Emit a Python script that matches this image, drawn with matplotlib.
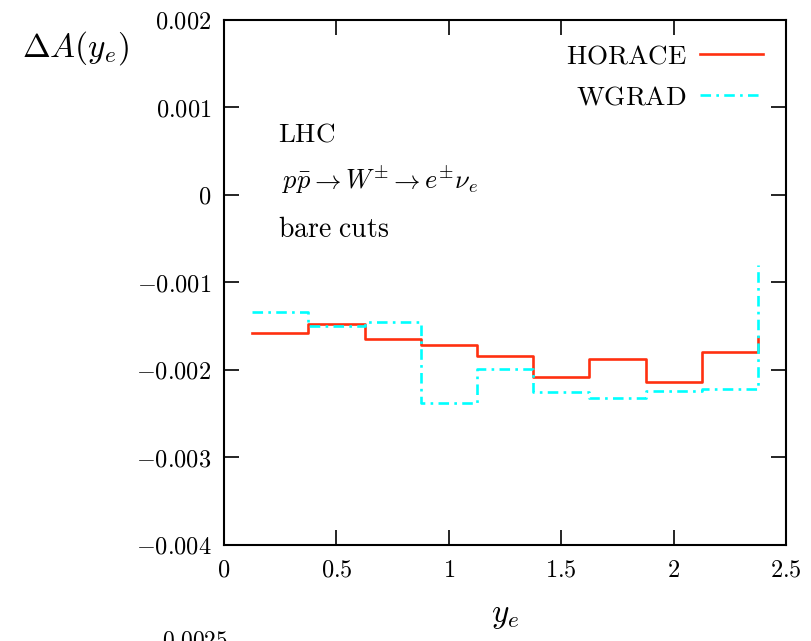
import matplotlib
matplotlib.use('Agg')
import matplotlib.pyplot as plt

plt.rcParams['mathtext.fontset'] = 'cm'
plt.rcParams['font.family'] = 'serif'
plt.rcParams['font.serif'] = ['DejaVu Serif']

# bin edges in y_e and the step values of Delta A
bin_edges = [0.125, 0.375, 0.625, 0.875, 1.125, 1.375, 1.625, 1.875, 2.125, 2.375]
horace = [-0.00158, -0.00147, -0.00165, -0.00171, -0.00184, -0.00208, -0.00187, -0.00214, -0.00179]
horace_end = -0.00162
wgrad = [-0.00134, -0.00150, -0.00145, -0.00238, -0.00199, -0.00225, -0.00232, -0.00224, -0.00222]
wgrad_end = -0.00080

xticks = [0, 0.5, 1, 1.5, 2, 2.5]
xtick_labels = ['0', '0.5', '1', '1.5', '2', '2.5']
yticks = [-0.004, -0.003, -0.002, -0.001, 0, 0.001, 0.002]
ytick_labels = ['-0.004', '-0.003', '-0.002', '-0.001', '0', '0.001', '0.002']

fig = plt.figure(figsize=(8.11, 6.41), dpi=100)
ax = fig.add_axes([0.2762, 0.1498, 0.6930, 0.8190])

ax.step(bin_edges, horace + [horace_end], where='post', color='#ff3010', lw=1.9, label=r'$\mathrm{HORACE}$')
ax.step(bin_edges, wgrad + [wgrad_end], where='post', color='#00ffff', lw=1.9,
        linestyle=(0, (4, 2, 1, 2)), label=r'$\mathrm{WGRAD}$')

ax.set_xlim(0, 2.5)
ax.set_ylim(-0.004, 0.002)
ax.set_xticks(xticks)
ax.set_xticklabels(['$%s$' % s for s in xtick_labels])
ax.set_yticks(yticks)
ax.set_yticklabels(['$%s$' % s for s in ytick_labels])
ax.tick_params(direction='in', length=10.5, width=1.2, labelsize=17.5,
               top=True, right=True)
ax.tick_params(axis='y', pad=9)
ax.tick_params(axis='x', pad=10)
for sp in ax.spines.values():
    sp.set_linewidth(1.5)

ax.legend(loc='upper right', frameon=False, markerfirst=False, fontsize=19.5,
          handlelength=2.3, handletextpad=0.5, labelspacing=0.5,
          bbox_to_anchor=(0.992, 0.993), borderaxespad=0.3)

ax.text(0.24, 0.0007, r'$\mathrm{LHC}$', fontsize=19.5, va='center')
ax.text(0.26, 0.00017, r'$p\bar{p} \rightarrow W^{\pm} \rightarrow e^{\pm}\nu_e$', fontsize=19, va='center')
ax.text(0.24, -0.0004, r'$\mathrm{bare\ cuts}$', fontsize=20, va='center')

fig.text(0.027, 0.925, r'$\Delta A(y_e)$', fontsize=24, va='center')
fig.text(0.623, 0.04, r'$y_e$', fontsize=24, ha='center', va='center')
# cut-off label of the next panel below
fig.text(0.2, 0.0, r'$0.0025$', fontsize=17, va='center')

fig.savefig('out.png', dpi=100)
